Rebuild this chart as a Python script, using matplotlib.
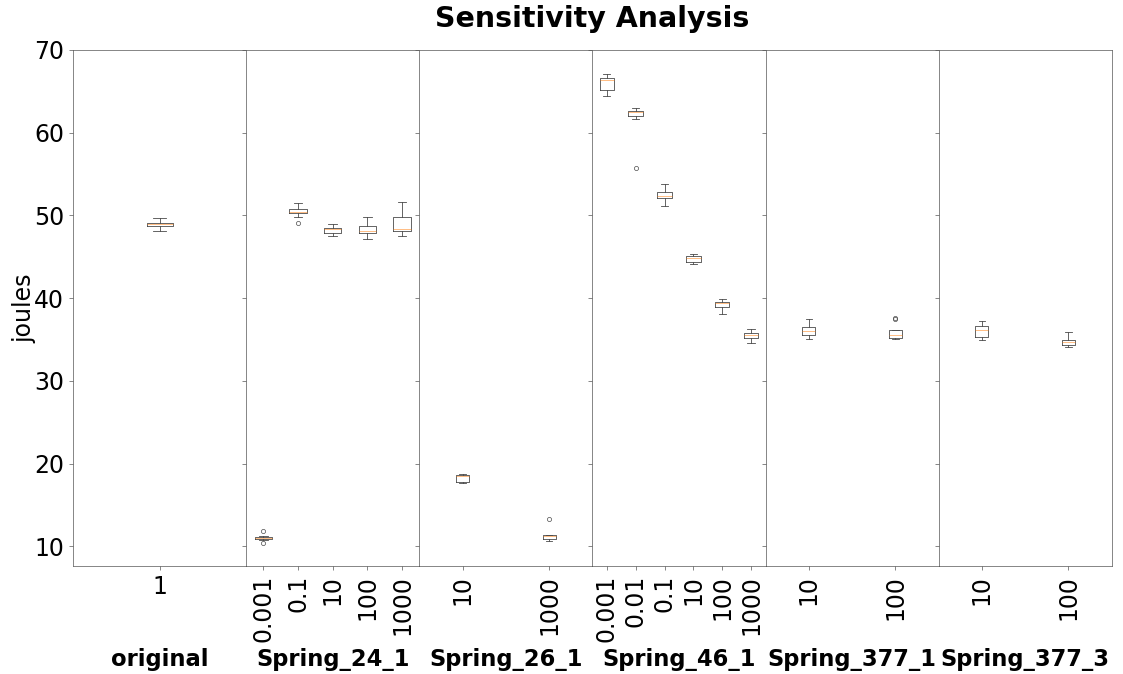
import matplotlib
matplotlib.use('Agg')
import matplotlib.pyplot as plt

# Energy per run (joules) for each spring stiffness multiplier
groups = ['original', 'Spring_24_1', 'Spring_26_1', 'Spring_46_1',
          'Spring_377_1', 'Spring_377_3']
factors = [
    ['1'],
    ['0.001', '0.1', '10', '100', '1000'],
    ['10', '1000'],
    ['0.001', '0.01', '0.1', '10', '100', '1000'],
    ['10', '100'],
    ['10', '100'],
]

# box statistics, one list per group
whis_lo = [
    [48.07],
    [10.75, 49.84, 47.46, 47.10, 47.46],
    [17.66, 10.60],
    [64.44, 61.65, 51.10, 44.07, 38.03, 34.64],
    [35.12, 35.10],
    [34.92, 34.04],
]
q1 = [
    [48.71],
    [10.85, 50.25, 47.83, 47.83, 48.14],
    [17.83, 10.89],
    [65.12, 62.05, 52.10, 44.39, 38.91, 35.13],
    [35.49, 35.13],
    [35.33, 34.32],
]
med = [
    [48.95],
    [10.98, 50.40, 48.35, 48.11, 48.38],
    [18.50, 11.20],
    [66.37, 62.46, 52.30, 44.80, 39.40, 35.53],
    [36.05, 35.53],
    [36.21, 34.72],
]
q3 = [
    [49.07],
    [11.10, 50.73, 48.47, 48.67, 49.76],
    [18.67, 11.37],
    [66.57, 62.62, 52.79, 45.04, 39.56, 35.77],
    [36.46, 36.17],
    [36.61, 35.00],
]
whis_hi = [
    [49.64],
    [11.20, 51.46, 48.99, 49.76, 51.58],
    [18.70, 11.40],
    [67.14, 63.02, 53.83, 45.28, 39.84, 36.33],
    [37.46, 36.20],
    [37.26, 35.85],
]
outliers = [
    [[]],
    [[10.45, 11.85], [49.07], [], [], []],
    [[], [13.27]],
    [[], [55.77], [], [], [], []],
    [[], [37.45, 37.65]],
    [[], []],
]

fig, axes = plt.subplots(1, len(groups), sharey=True, figsize=(11.23, 6.74), dpi=100)
fig.subplots_adjust(left=0.065, right=0.990, top=0.926, bottom=0.160, wspace=0)

lw = 0.6
line_col = '#4a4a4a'
for g, ax in enumerate(axes):
    stats = []
    for k, lab in enumerate(factors[g]):
        stats.append(dict(label=lab, whislo=whis_lo[g][k], q1=q1[g][k], med=med[g][k],
                          q3=q3[g][k], whishi=whis_hi[g][k], fliers=outliers[g][k]))
    ax.bxp(stats,
           boxprops=dict(linewidth=lw, color=line_col),
           whiskerprops=dict(linewidth=lw, color=line_col),
           capprops=dict(linewidth=lw, color=line_col),
           medianprops=dict(linewidth=lw, color='#ff7f0e', alpha=0.6),
           flierprops=dict(marker='o', markersize=3, markeredgewidth=0.5,
                           markeredgecolor=line_col, markerfacecolor='none'))
    for sp in ax.spines.values():
        sp.set_linewidth(0.5)
        sp.set_color('#555555')
    ax.tick_params(axis='both', labelsize=17, length=3, width=0.5, color='#555555')
    if g > 0:
        ax.tick_params(axis='x', labelrotation=90)
    ax.set_xlabel(groups[g], fontsize=16.3, fontweight='bold')

axes[0].set_ylabel('joules', fontsize=17, labelpad=-2)
axes[0].set_yticks([10, 20, 30, 40, 50, 60, 70])
fig.align_xlabels(axes)

fig.suptitle('Sensitivity Analysis', fontsize=20.5, fontweight='bold',
             x=(0.065 + 0.990) / 2, y=0.972, va='center')

fig.savefig('out.png', dpi=100)
